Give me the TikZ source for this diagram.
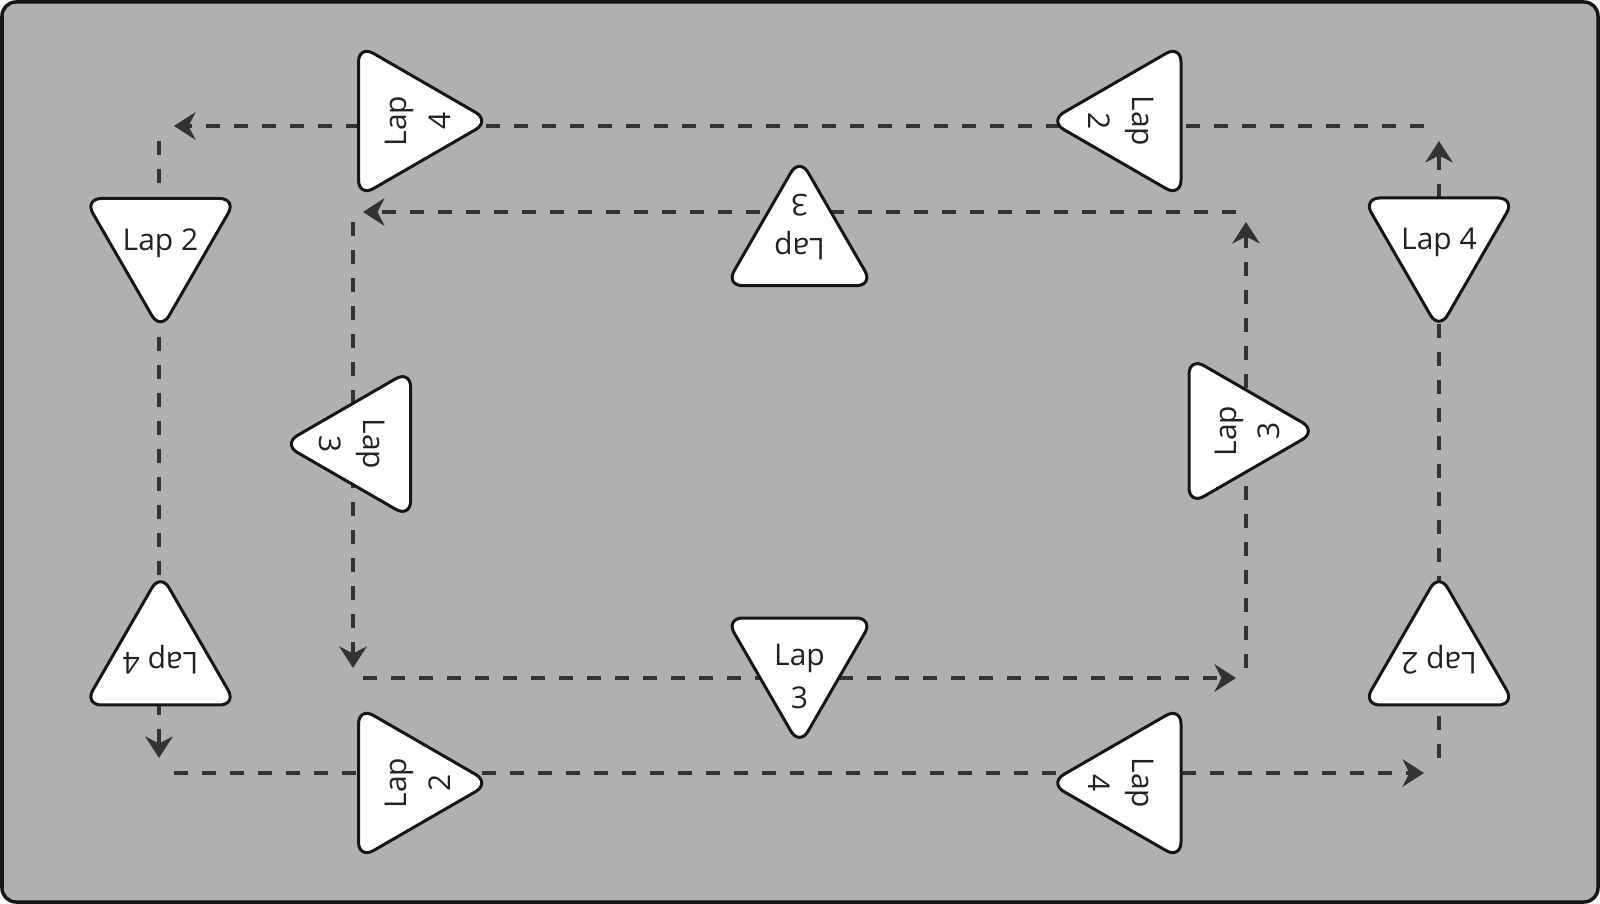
\documentclass[tikz,border=0pt]{standalone}
\usepackage{fontspec}
\setmainfont{Open Sans}
\usepackage{tikz}
\usetikzlibrary{arrows.meta,shapes.geometric}
\definecolor{LPBack}{HTML}{B0B0B0}
\definecolor{LPEdge}{HTML}{161616}
\definecolor{LPLine}{HTML}{333333}
\definecolor{LPText}{HTML}{222222}
\newcommand{\lapstack}[1]{\raisebox{-10pt}[0pt][0pt]{\makebox[0pt]{\begin{tabular}{@{}c@{}}#1\end{tabular}}}}
\newcommand{\lapline}[1]{\raisebox{-3.2pt}[0pt][0pt]{\makebox[0pt]{#1}}}

\begin{document}
\begin{tikzpicture}[x=0.4pt,y=-0.4pt, font=\fontsize{12}{17.5}\selectfont,
  lap/.style={regular polygon, regular polygon sides=3, shape border rotate=180,
    draw=LPEdge, fill=white, line width=1.2pt, rounded corners=6.9pt,
    inner sep=0pt, text=LPText, minimum size=70.4pt},
  lapin/.style={lap, minimum size=68.3pt},
  route/.style={LPLine, line width=1.3pt, dash pattern=on 5.5pt off 5.7pt,
    -{Stealth[length=8.6pt,width=11pt,inset=2.8pt]},
    shorten <=6pt, shorten >=6pt},
  routein/.style={route, shorten <=4pt, shorten >=4pt}]
\useasboundingbox (0,0) rectangle (1600,904);
\draw[fill=LPBack, draw=LPEdge, line width=1.4pt, rounded corners=5.6pt]
  (2,2) rectangle (1598,902);
% corners of the two loops
\coordinate (otr) at (1439,126);
\coordinate (otl) at (159,126);
\coordinate (obl) at (159,773);
\coordinate (obr) at (1439,773);
\coordinate (itr) at (1246,212);
\coordinate (itl) at (353,212);
\coordinate (ibl) at (353,678);
\coordinate (ibr) at (1246,678);
\foreach \a/\b in {otr/otl,otl/obl,obl/obr,obr/otr} {
  \draw[route] (\a) -- (\b);
}
\foreach \a/\b in {itr/itl,itl/ibl,ibl/ibr,ibr/itr} {
  \draw[routein] (\a) -- (\b);
}
% outer loop
\node[lap, rotate=90]  (otopl)   at (402.5,121) {\lapstack{Lap\\4}};
\node[lap, rotate=-90] (otopr)   at (1137,121)  {\lapstack{Lap\\2}};
\node[lap]             (olefta)  at (160.5,242.5) {\lapline{Lap 2}};
\node[lap, rotate=180] (oleftb)  at (160.5,661) {\lapline{Lap 4}};
\node[lap]             (orighta) at (1439,242)  {\lapline{Lap 4}};
\node[lap, rotate=180] (orightb) at (1439,661)  {\lapline{Lap 2}};
\node[lap, rotate=90]  (obotl)   at (402.5,783) {\lapstack{Lap\\2}};
\node[lap, rotate=-90] (obotr)   at (1137,783)  {\lapstack{Lap\\4}};
% inner loop
\node[lapin, rotate=180] (itop)   at (799.5,243)   {\lapstack{Lap\\3}};
\node[lapin]             (ibot)   at (799.5,660.7) {\lapstack{Lap\\3}};
\node[lapin, rotate=-90] (ileft)  at (368,444)     {\lapstack{Lap\\3}};
\node[lapin, rotate=90]  (iright) at (1231.7,431)  {\lapstack{Lap\\3}};
\end{tikzpicture}
\end{document}
